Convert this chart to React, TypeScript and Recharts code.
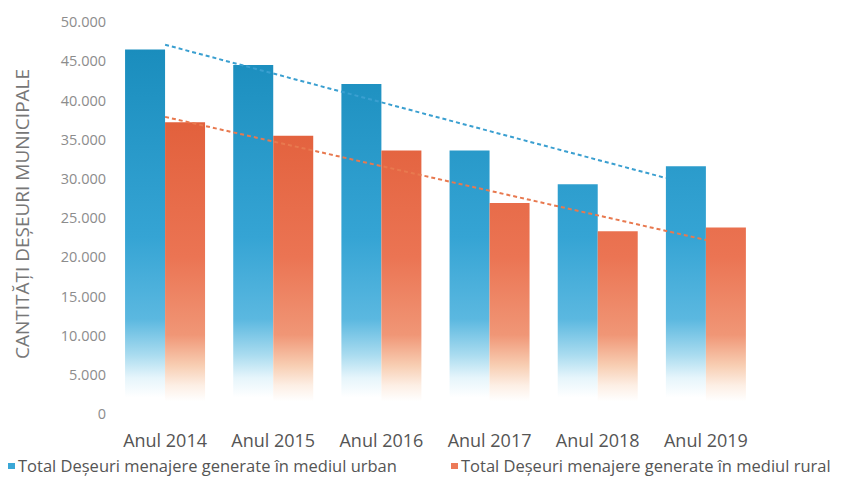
import { ComposedChart, Bar, XAxis, YAxis, Legend, ReferenceLine } from "recharts";

const years = ["Anul 2014", "Anul 2015", "Anul 2016", "Anul 2017", "Anul 2018", "Anul 2019"];
const urbanValues = [46500, 44500, 42100, 33600, 29300, 31600];
const ruralValues = [37200, 35500, 33600, 26900, 23300, 23800];
const yTicks = [0, 5000, 10000, 15000, 20000, 25000, 30000, 35000, 40000, 45000, 50000];

// trend lines (x = category index)
const urbanTrend = [
  { x: 0, y: 47100 },
  { x: 4.63, y: 30100 },
];
const ruralTrend = [
  { x: 0, y: 37900 },
  { x: 5, y: 22200 },
];

const urbanName = "Total Deșeuri menajere generate în mediul urban";
const ruralName = "Total Deșeuri menajere generate în mediul rural";

const data = years.map((year, i) => ({
  year,
  idx: i,
  urban: urbanValues[i],
  rural: ruralValues[i],
}));

const FONT = "'Open Sans', sans-serif";

const formatTick = (v: number) => String(v).replace(/\B(?=(\d{3})+(?!\d))/g, ".");

const itemStyle = {
  position: "absolute" as const,
  top: 0,
  display: "flex",
  alignItems: "center",
  whiteSpace: "nowrap" as const,
  lineHeight: "20px",
};

const LegendContent = () => (
  <div style={{ position: "relative", width: 842, height: 20, fontFamily: FONT, fontSize: 16.5, color: "#555" }}>
    <div style={{ ...itemStyle, left: 8 }}>
      <span style={{ width: 7, height: 6, background: "#3aa7d6", marginRight: 3 }} />
      {urbanName}
    </div>
    <div style={{ ...itemStyle, left: 451 }}>
      <span style={{ width: 7, height: 6, background: "#ec7a58", marginRight: 3 }} />
      {ruralName}
    </div>
  </div>
);

const App = () => {
  return (
    <div style={{ position: "absolute", left: 0, top: 0, width: 842, height: 477, background: "#fff" }}>
      <ComposedChart
        width={842}
        height={477}
        data={data}
        margin={{ top: 22, right: 82, bottom: 13, left: 41 }}
        barCategoryGap="13%"
        barGap={0}
      >
        <defs>
          <linearGradient id="urbanFill" gradientUnits="userSpaceOnUse" x1="0" y1="22" x2="0" y2="413">
            <stop offset="0.07" stopColor="#1a8dbd" />
            <stop offset="0.55" stopColor="#35a4d4" />
            <stop offset="0.76" stopColor="#5bb8e0" />
            <stop offset="0.85" stopColor="#a8dbef" />
            <stop offset="0.91" stopColor="#e6f5fb" />
            <stop offset="0.96" stopColor="#ffffff" />
          </linearGradient>
          <linearGradient id="ruralFill" gradientUnits="userSpaceOnUse" x1="0" y1="22" x2="0" y2="413">
            <stop offset="0.25" stopColor="#e2603c" />
            <stop offset="0.6" stopColor="#eb7453" />
            <stop offset="0.8" stopColor="#f09676" />
            <stop offset="0.88" stopColor="#f8cfb4" />
            <stop offset="0.93" stopColor="#fdefe5" />
            <stop offset="0.97" stopColor="#ffffff" />
          </linearGradient>
        </defs>

        <XAxis
          xAxisId="cat"
          dataKey="year"
          axisLine={false}
          tickLine={false}
          tickMargin={14}
          height={30}
          interval={0}
          tick={{ fill: "#555", fontSize: 18, fontFamily: FONT }}
        />
        <XAxis
          xAxisId="trend"
          dataKey="idx"
          type="number"
          domain={[-0.5, 5.5]}
          allowDataOverflow
          hide
        />

        <YAxis
          domain={[0, 50000]}
          ticks={yTicks}
          interval={0}
          width={70}
          axisLine={false}
          tickLine={false}
          tickSize={5}
          tickMargin={0}
          tickFormatter={formatTick}
          tick={{ fill: "#8c8c8c", fontSize: 14.5, fontFamily: FONT }}
          label={{
            value: "CANTITĂȚI DEȘEURI MUNICIPALE",
            angle: -90,
            position: "insideLeft",
            offset: 0,
            dx: -19,
            dy: -4,
            style: { fill: "#777", fontSize: 19, fontFamily: FONT, textAnchor: "middle" },
          }}
        />

        <Bar xAxisId="cat" dataKey="urban" name={urbanName} fill="url(#urbanFill)" isAnimationActive={false} />
        <Bar xAxisId="cat" dataKey="rural" name={ruralName} fill="url(#ruralFill)" isAnimationActive={false} />

        <ReferenceLine
          xAxisId="trend"
          segment={urbanTrend}
          stroke="#3a9fd0"
          strokeWidth={2}
          strokeDasharray="4 3"
        />
        <ReferenceLine
          xAxisId="trend"
          segment={ruralTrend}
          stroke="#e8794f"
          strokeWidth={2}
          strokeDasharray="4 3"
        />

        <Legend
          content={<LegendContent />}
          wrapperStyle={{ left: 0, top: 456, width: 842 }}
        />
      </ComposedChart>
    </div>
  );
};

export default App;
